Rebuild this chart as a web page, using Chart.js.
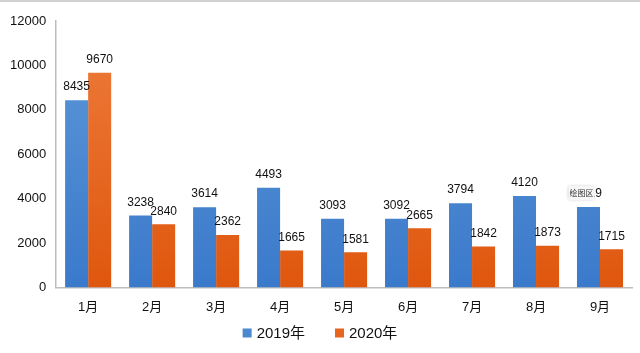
<!DOCTYPE html>
<html>
<head>
<meta charset="utf-8">
<script src="https://cdn.jsdelivr.net/npm/chart.js@4"></script>
<style>
  html, body { margin: 0; padding: 0; background: #fff; }
  #wrap { width: 640px; height: 353px; position: relative; box-sizing: border-box; border-top: 2px solid #d0d0d0; }
</style>
</head>
<body>
<div id="wrap"><canvas id="chart"></canvas></div>
<script>
const months = ["1月", "2月", "3月", "4月", "5月", "6月", "7月", "8月", "9月"];
const values2019 = [8435, 3238, 3614, 4493, 3093, 3092, 3794, 4120, 3619];
const values2020 = [9670, 2840, 2362, 1665, 1581, 2665, 1842, 1873, 1715];
const yTicks = [0, 2000, 4000, 6000, 8000, 10000, 12000];
const seriesNames = ["2019年", "2020年"];
const legendColors = ["#4a88d0", "#e8651f"];

// vertical gradient like the Excel bars
function makeGradient(chart, top, bottom) {
  const area = chart.chartArea;
  if (!area) return bottom;
  const g = chart.ctx.createLinearGradient(0, area.top, 0, area.bottom);
  g.addColorStop(0, top);
  g.addColorStop(1, bottom);
  return g;
}

// value labels above each bar
const valueLabels = {
  id: "valueLabels",
  afterDatasetsDraw(chart) {
    const ctx = chart.ctx;
    ctx.save();
    ctx.font = "12px 'Liberation Sans', Arial, sans-serif";
    ctx.fillStyle = "#111";
    ctx.textAlign = "center";
    ctx.textBaseline = "bottom";
    chart.data.datasets.forEach((ds, i) => {
      chart.getDatasetMeta(i).data.forEach((bar, j) => {
        ctx.fillText(ds.data[j], bar.x, bar.y - 7);
      });
    });
    ctx.restore();
  }
};

// legend drawn by hand so the spacing between items matches Excel
const bottomLegend = {
  id: "bottomLegend",
  afterDraw(chart) {
    const ctx = chart.ctx;
    ctx.save();
    ctx.font = "15px 'Liberation Sans', Arial, 'Noto Sans CJK SC', sans-serif";
    ctx.textBaseline = "middle";
    const y = chart.height - 20;
    const gap = 30, box = 9, boxGap = 5;
    const widths = seriesNames.map((s) => box + boxGap + ctx.measureText(s).width);
    const total = widths[0] + gap + widths[1];
    let x = (chart.width - total) / 2;
    seriesNames.forEach((s, i) => {
      ctx.fillStyle = legendColors[i];
      ctx.fillRect(x, y - box / 2, box, box);
      ctx.fillStyle = "#111";
      ctx.fillText(s, x + box + boxGap, y + 1);
      x += widths[i] + gap;
    });
    ctx.restore();
  }
};

// the little "绘图区" hover box Excel left on the last bar
const plotAreaTip = {
  id: "plotAreaTip",
  afterDraw(chart) {
    const bar = chart.getDatasetMeta(0).data[8];
    if (!bar) return;
    const ctx = chart.ctx;
    ctx.save();
    ctx.font = "8px 'Noto Sans CJK SC', sans-serif";
    const w = 26, h = 14;
    const x = bar.x - 20, y = bar.y - 21;
    ctx.shadowColor = "rgba(0,0,0,0.25)";
    ctx.shadowBlur = 3;
    ctx.fillStyle = "#f7f7f7";
    ctx.fillRect(x, y, w, h);
    ctx.shadowBlur = 0;
    ctx.fillStyle = "#333";
    ctx.textAlign = "center";
    ctx.textBaseline = "middle";
    ctx.fillText("绘图区", x + w / 2, y + h / 2);
    ctx.restore();
  }
};

new Chart(document.getElementById("chart"), {
  type: "bar",
  data: {
    labels: months,
    datasets: [
      {
        label: seriesNames[0],
        data: values2019,
        backgroundColor: (c) => makeGradient(c.chart, "#5d98d8", "#3b7acb"),
        barPercentage: 1.0,
        categoryPercentage: 0.72
      },
      {
        label: seriesNames[1],
        data: values2020,
        backgroundColor: (c) => makeGradient(c.chart, "#ee7c3c", "#df570e"),
        barPercentage: 1.0,
        categoryPercentage: 0.72
      }
    ]
  },
  options: {
    responsive: true,
    maintainAspectRatio: false,
    animation: false,
    layout: { padding: { top: 19, right: 8, left: 0, bottom: 26 } },
    plugins: {
      tooltip: { enabled: false },
      legend: { display: false }
    },
    scales: {
      x: {
        grid: { display: false, drawTicks: false },
        border: { color: "#bdbdbd", width: 1.5 },
        ticks: {
          color: "#111",
          padding: 12,
          font: { size: 13, family: "'Liberation Sans', Arial, 'Noto Sans CJK SC', sans-serif" }
        }
      },
      y: {
        min: 0,
        max: 12000,
        afterBuildTicks: (axis) => { axis.ticks = yTicks.map((v) => ({ value: v })); },
        grid: { display: false, drawTicks: false },
        border: { color: "#bdbdbd", width: 1.5 },
        ticks: {
          color: "#111",
          padding: 10,
          callback: (v) => String(v),
          font: { size: 13, family: "'Liberation Sans', Arial, sans-serif" }
        }
      }
    }
  },
  plugins: [valueLabels, bottomLegend, plotAreaTip]
});
</script>
</body>
</html>
